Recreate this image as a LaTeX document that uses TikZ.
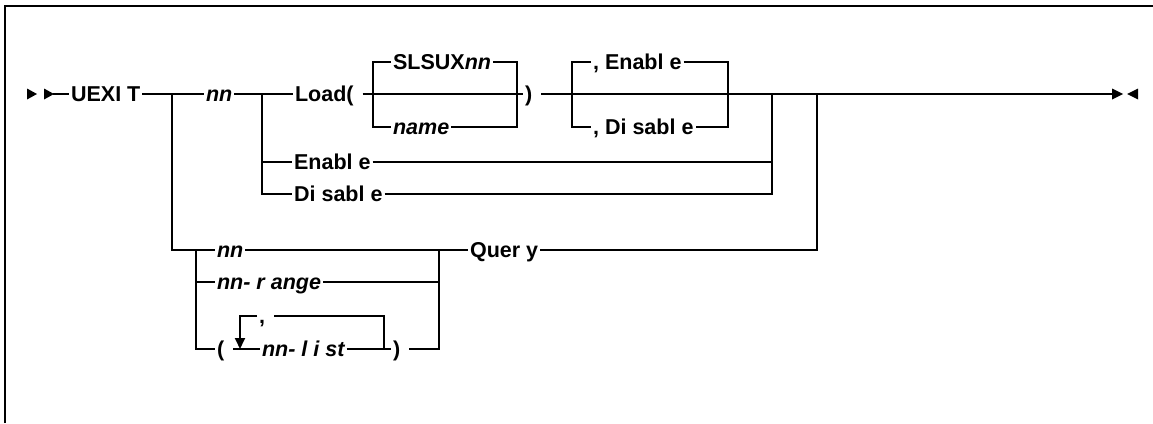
\documentclass[tikz,border=0pt]{standalone}
\usepackage{fontspec}
\setmainfont{Liberation Sans}
\usetikzlibrary{arrows.meta}
\newcommand{\gp}{\kern7pt\mbox{}}
\begin{document}
\begin{tikzpicture}[x=1pt,y=-1pt,line width=1.8pt,
  kw/.style={inner xsep=1.2pt,inner ysep=0pt,text height=14pt,text depth=0pt,anchor=west,
    font=\fontsize{21.5}{25}\selectfont\bfseries},
  var/.style={kw,font=\fontsize{21.5}{25}\selectfont\bfseries\itshape},
  tip/.style={fill=black,draw=none}]
\useasboundingbox (0,0) rectangle (1153,423);
\draw[line width=2pt] (5,423) -- (5,6) -- (1153,6);
% nodes
\node[kw] (uexit) at (69,94) {UEXI T};
\node[var] (nn1) at (204,94) {nn};
\node[kw] (load) at (293,94) {Load(\gp};
\node[kw] (slsux) at (391,62) {SLSUX\textit{nn}};
\node[var] (name) at (391,127) {name};
\node[kw] (rp1) at (523,94) {)\gp};
\node[kw] (en1) at (591,62) {, Enabl e};
\node[kw] (dis1) at (591,127) {, Di sabl e};
\node[kw] (en2) at (292,162) {Enabl e};
\node[kw] (dis2) at (292,194) {Di sabl e};
\node[var] (nn2) at (215,250) {nn};
\node[var] (range) at (215,282) {nn- r ange};
\node[kw] (lp) at (215,349) {(\gp};
\node[var] (list) at (260,349) {nn- l i st};
\node[kw] (rp2) at (391,349) {)\gp};
\node[kw] (query) at (468,250) {Quer y};
\node[kw] (comma) at (257,316) {,\gp};
% coordinates
\coordinate (start) at (53,94);
\coordinate (j1) at (172,94);
\coordinate (j2) at (262,94);
\coordinate (b1lb) at (373,127);
\coordinate (b1rb) at (517,127);
\coordinate (b2lb) at (572,127);
\coordinate (b2rb) at (728,127);
\coordinate (j3) at (772,94);
\coordinate (j4) at (817,94);
\coordinate (endarr) at (1112,94);
\coordinate (j5) at (196,250);
\coordinate (j6) at (439,250);
\coordinate (repl) at (240,349);
\coordinate (repr) at (384,349);
% arrows at ends
\fill[tip] (27,88.5) -- (37,94) -- (27,99.5) -- cycle;
\fill[tip] (44,88.5) -- (54,94) -- (44,99.5) -- cycle;
\fill[tip] (1112,88.5) -- (1123,94) -- (1112,99.5) -- cycle;
\fill[tip] (1138,88.5) -- (1127,94) -- (1138,99.5) -- cycle;
% main line
\draw (start) -- (uexit.west);
\draw (uexit.east) -- (nn1.west);
\draw (nn1.east) -- (load.west);
\draw (load.east) -- (rp1.west);
\draw (rp1.east) -- (endarr);
% SLSUXnn / name box
\draw (slsux.west) -| (b1lb) -- (name.west);
\draw (slsux.east) -| (b1rb) -- (name.east);
% Enable / Disable box
\draw (en1.west) -| (b2lb) -- (dis1.west);
\draw (en1.east) -| (b2rb) -- (dis1.east);
% Enable / Disable alternatives
\draw (j2) |- (en2.west);
\draw (j2) |- (dis2.west);
\draw (en2.east) -| (j3);
\draw (dis2.east) -| (j3);
% Query branch
\draw (j1) |- (nn2.west);
\draw (nn2.east) -- (query.west);
\draw (query.east) -| (j4);
\draw (j5) |- (range.west);
\draw (j5) |- (lp.west);
\draw (range.east) -| (j6);
\draw (rp2.east) -| (j6);
\draw (lp.east) -- (list.west);
\draw (list.east) -- (rp2.west);
% repeat loop
\draw[-{Triangle[length=11pt,width=10pt]}] (comma.west) -| (repl);
\draw (comma.east) -| (repr);
\end{tikzpicture}
\end{document}
